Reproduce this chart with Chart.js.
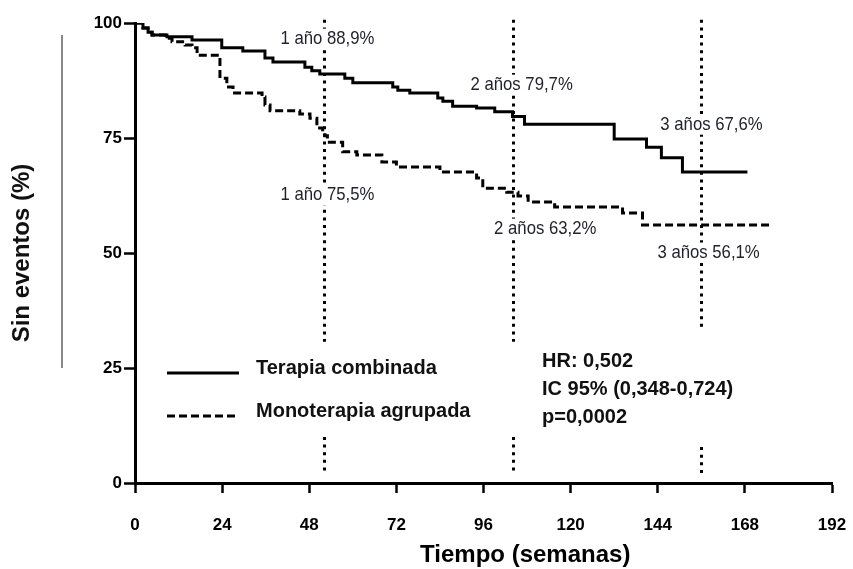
<!DOCTYPE html>
<html>
<head>
<meta charset="utf-8">
<title>Sin eventos</title>
<script src="https://cdn.jsdelivr.net/npm/chart.js@4.4.1/dist/chart.umd.min.js"></script>
<style>
  html, body { margin: 0; padding: 0; background: #fff; }
  canvas { display: block; }
</style>
</head>
<body>
<canvas id="kmChart" width="853" height="569"></canvas>
<script>
// Kaplan-Meier steps (weeks, % event-free after each drop)
const combinedWeeks = [0, 2.2, 3.6, 4.7, 8.8, 15.7, 23.9, 29.7, 35.8, 38, 46.8, 48.7, 50.9, 57.8, 60, 71, 72.4, 75.7, 83.4, 84.8, 87.5, 94.1, 99.1, 104, 107.3, 132, 140.9, 145, 150.8, 168.7];
const combinedSurvival = [100, 98.9, 98.0, 97.4, 97.0, 96.3, 94.6, 93.9, 92.4, 91.5, 90.4, 89.6, 88.9, 88.0, 87.0, 86.1, 85.4, 84.8, 83.7, 83.0, 81.9, 81.5, 80.7, 79.7, 78.0, 74.8, 73.0, 70.7, 67.6, 67.6];

const monoWeeks = [0, 2.2, 3.6, 4.7, 8.3, 10.2, 13.8, 15.7, 17.1, 23.4, 25.3, 27, 35, 35.8, 37.2, 45.4, 48.2, 50.1, 51.7, 52.3, 53, 57.2, 61.1, 68, 72, 84, 94.1, 95.8, 102.4, 105.5, 108.3, 115.6, 134.3, 139.8, 174.8];
const monoSurvival = [100, 98.9, 98.0, 97.4, 96.7, 95.9, 95.2, 94.6, 93.0, 88.0, 86.1, 84.8, 83.9, 82.2, 80.9, 80.2, 79.3, 77.2, 76.3, 75.5, 74.1, 72.0, 71.3, 69.8, 68.7, 67.6, 66.3, 64.1, 63.2, 62.4, 61.1, 60.0, 58.7, 56.1, 56.1];

const seriesNames = ['Terapia combinada', 'Monoterapia agrupada'];
const landmarkWeeks = [52, 104, 156];
const combinedLabels = ['1 año 88,9%', '2 años 79,7%', '3 años 67,6%'];
const monoLabels = ['1 año 75,5%', '2 años 63,2%', '3 años 56,1%'];
const statsLines = ['HR: 0,502', 'IC 95% (0,348-0,724)', 'p=0,0002'];

const SANS = "'Liberation Sans', Arial, sans-serif";

const toPoints = (xs, ys) => xs.map((w, i) => ({ x: w, y: ys[i] }));

// label anchors in data units (week, %)
const topLabelPos = [[53, 96.6], [106.5, 86.6], [158.8, 77.9]];
const lowLabelPos = [[53, 62.6], [113, 55.3], [158, 50.1]];
const lineGaps = [[30.7, 10], [30.7, 10], [33.3, 7.8]];

const annotate = {
  id: 'annotate',
  beforeDatasetsDraw(chart) {
    const { ctx, scales: { x, y } } = chart;
    ctx.save();
    ctx.strokeStyle = '#000';
    ctx.lineWidth = 3;
    ctx.setLineDash([3, 4.6]);
    landmarkWeeks.forEach((w, i) => {
      const px = Math.round(x.getPixelForValue(w)) + 0.5;
      const segs = [[100.7, lineGaps[i][0]], [lineGaps[i][1], 1.8]];
      segs.forEach(([a, b]) => {
        ctx.beginPath();
        ctx.moveTo(px, y.getPixelForValue(a));
        ctx.lineTo(px, y.getPixelForValue(b));
        ctx.stroke();
      });
    });
    ctx.restore();
  },
  afterDatasetsDraw(chart) {
    const { ctx, scales: { x, y } } = chart;
    ctx.save();

    // percentage labels (condensed) with a white backing that cuts the dotted lines
    ctx.font = '19px ' + SANS;
    ctx.textAlign = 'center';
    ctx.textBaseline = 'middle';
    const squeeze = 0.88;
    const label = (text, pos) => {
      const cx = x.getPixelForValue(pos[0]);
      const cy = y.getPixelForValue(pos[1]);
      const w = ctx.measureText(text).width * squeeze;
      ctx.fillStyle = '#fff';
      ctx.fillRect(cx - w / 2 - 2, cy - 10, w + 4, 20);
      ctx.save();
      ctx.translate(cx, cy);
      ctx.scale(squeeze, 1);
      ctx.fillStyle = '#23232f';
      ctx.fillText(text, 0, 0);
      ctx.restore();
    };
    combinedLabels.forEach((t, i) => label(t, topLabelPos[i]));
    monoLabels.forEach((t, i) => label(t, lowLabelPos[i]));

    // legend
    ctx.textAlign = 'left';
    ctx.font = 'bold 20px ' + SANS;
    const legendY = [373, 416];
    chart.data.datasets.forEach((ds, i) => {
      ctx.strokeStyle = ds.borderColor;
      ctx.lineWidth = 3;
      ctx.setLineDash(ds.borderDash || []);
      ctx.beginPath();
      ctx.moveTo(167, legendY[i]);
      ctx.lineTo(239, legendY[i]);
      ctx.stroke();
      ctx.fillStyle = '#111';
      ctx.fillText(ds.label, 256, legendY[i] - 5);
    });
    ctx.setLineDash([]);

    // statistics block
    ctx.font = 'bold 20px ' + SANS;
    statsLines.forEach((t, i) => ctx.fillText(t, 542, 361 + i * 28));

    // x axis title
    ctx.textAlign = 'center';
    ctx.font = 'bold 24px ' + SANS;
    ctx.fillStyle = '#000';
    ctx.fillText('Tiempo (semanas)', x.getPixelForValue(107.5), 555);

    // thin grey rule beside the y title
    ctx.strokeStyle = '#888';
    ctx.lineWidth = 2;
    ctx.beginPath();
    ctx.moveTo(62, 35);
    ctx.lineTo(62, 368);
    ctx.stroke();
    ctx.restore();
  }
};

new Chart(document.getElementById('kmChart'), {
  type: 'line',
  data: {
    datasets: [
      {
        label: seriesNames[0],
        data: toPoints(combinedWeeks, combinedSurvival),
        borderColor: '#000',
        borderWidth: 3,
        stepped: true,
        pointRadius: 0,
        fill: false
      },
      {
        label: seriesNames[1],
        data: toPoints(monoWeeks, monoSurvival),
        borderColor: '#000',
        borderWidth: 3,
        borderDash: [8, 4],
        stepped: true,
        pointRadius: 0,
        fill: false
      }
    ]
  },
  options: {
    responsive: false,
    animation: false,
    layout: { padding: { top: 23, right: 21, left: 0, bottom: 0 } },
    plugins: { legend: { display: false }, tooltip: { enabled: false } },
    scales: {
      x: {
        type: 'linear',
        min: 0,
        max: 192,
        afterFit: s => { s.height = 86; s.paddingLeft = 0; s.paddingRight = 0; },
        ticks: { stepSize: 24, autoSkip: false, maxRotation: 0, padding: 22, color: '#000',
                 font: { family: SANS, size: 17, weight: 'bold' } },
        grid: { drawOnChartArea: false, tickLength: 10, tickWidth: 2.5, tickColor: '#000' },
        border: { color: '#000', width: 3 }
      },
      y: {
        min: 0,
        max: 100,
        afterFit: s => { s.width = 135; s.paddingTop = 0; s.paddingBottom = 0; },
        ticks: { stepSize: 25, padding: 2, color: '#000',
                 font: { family: SANS, size: 17, weight: 'bold' } },
        grid: { drawOnChartArea: false, tickLength: 11, tickWidth: 2.5, tickColor: '#000' },
        border: { color: '#000', width: 3 },
        title: { display: true, text: 'Sin eventos (%)', color: '#111',
                 font: { family: SANS, size: 24, weight: 'bold' }, padding: { top: 8, bottom: 0 } }
      }
    }
  },
  plugins: [annotate]
});
</script>
</body>
</html>
